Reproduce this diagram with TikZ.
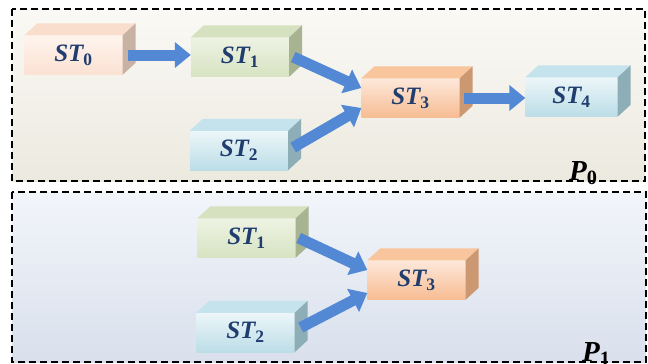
\documentclass[tikz,border=0pt]{standalone}
\usepackage{fontspec}
\setmainfont{Liberation Serif}
\usetikzlibrary{arrows.meta}

\definecolor{stblue}{HTML}{1F3D6E}
\definecolor{flowblue}{HTML}{5288D4}
\definecolor{peachA}{HTML}{FEF4EE}
\definecolor{peachB}{HTML}{FBE1D2}
\definecolor{peachT}{HTML}{F9DECD}
\definecolor{peachS}{HTML}{C8B2A3}
\definecolor{greenA}{HTML}{EEF3E3}
\definecolor{greenB}{HTML}{D7E3C2}
\definecolor{greenT}{HTML}{D6E1C0}
\definecolor{greenS}{HTML}{A7B391}
\definecolor{cyanA}{HTML}{ECF6F9}
\definecolor{cyanB}{HTML}{BCDDE7}
\definecolor{cyanT}{HTML}{C5E3EC}
\definecolor{cyanS}{HTML}{8DAEB6}
\definecolor{orangeA}{HTML}{FDE8DA}
\definecolor{orangeB}{HTML}{F7BC92}
\definecolor{orangeT}{HTML}{F9C59C}
\definecolor{orangeS}{HTML}{CC9872}
\definecolor{sandA}{HTML}{FAF9F5}
\definecolor{sandB}{HTML}{ECE9DF}
\definecolor{skyA}{HTML}{F2F5FA}
\definecolor{skyB}{HTML}{D9E0EC}

\tikzset{
  stbox/.style={minimum width=98pt, minimum height=39pt, inner sep=0pt,
    text=stblue, font=\fontsize{25}{25}\selectfont\bfseries\itshape},
  peach/.style={stbox, top color=peachA, bottom color=peachB},
  green/.style={stbox, top color=greenA, bottom color=greenB},
  cyan/.style={stbox, top color=cyanA, bottom color=cyanB},
  orange/.style={stbox, top color=orangeA, bottom color=orangeB},
  flow/.style={draw=flowblue, line width=11pt, -{Triangle[length=16pt,width=25pt]}},
  panel/.style={draw=black, line width=1.4pt, dash pattern=on 7pt off 4pt},
  plabel/.style={anchor=base west, inner sep=0pt,
    font=\fontsize{29}{29}\selectfont\bfseries\itshape},
}

% top and side faces of a box
\newcommand{\faces}[3]{%
  \fill[#2] (#1.north west) -- ++(13,-12) -- ([shift={(13,-12)}]#1.north east) -- (#1.north east) -- cycle;
  \fill[#3] (#1.north east) -- ++(13,-12) -- ([shift={(13,-12)}]#1.south east) -- (#1.south east) -- cycle;}
\newcommand{\stl}[1]{ST\textsubscript{\upshape #1}}

\begin{document}
\begin{tikzpicture}[x=1pt, y=-1pt]
  \useasboundingbox (0,0) rectangle (648,364);

  % Panels
  \path[top color=sandA, bottom color=sandB] (12,9) rectangle (645,181);
  \draw[panel] (12,9) rectangle (645,181);
  \path[top color=skyA, bottom color=skyB] (12,192) rectangle (646,362);
  \draw[panel] (12,192) rectangle (646,362);

  % P0 boxes
  \node[peach]  (p0st0) at (73.5,55)  {\stl{0}};
  \node[green]  (p0st1) at (240,57)   {\stl{1}};
  \node[cyan]   (p0st2) at (239,150.5) {\stl{2}};
  \node[orange] (p0st3) at (410.5,98) {\stl{3}};
  \node[cyan, minimum width=92pt] (p0st4) at (571.5,97) {\stl{4}};
  \faces{p0st0}{peachT}{peachS}
  \faces{p0st1}{greenT}{greenS}
  \faces{p0st2}{cyanT}{cyanS}
  \faces{p0st3}{orangeT}{orangeS}
  \faces{p0st4}{cyanT}{cyanS}

  % P1 boxes
  \node[green]  (p1st1) at (246.5,238) {\stl{1}};
  \node[cyan]   (p1st2) at (245.5,332.5) {\stl{2}};
  \node[orange] (p1st3) at (416.5,280) {\stl{3}};
  \faces{p1st1}{greenT}{greenS}
  \faces{p1st2}{cyanT}{cyanS}
  \faces{p1st3}{orangeT}{orangeS}

  % Arrows
  \draw[flow] ([xshift=5pt]p0st0.east) -- (p0st0.east -| p0st1.west);
  \draw[flow] ([xshift=4pt]p0st1.east) -- ([yshift=10pt]p0st3.west);
  \draw[flow] ([xshift=5pt,yshift=3pt]p0st2.east) -- ([yshift=-10pt]p0st3.west);
  \draw[flow] ([xshift=4pt]p0st3.east) -- (p0st3.east -| p0st4.west);
  \draw[flow] ([xshift=3pt]p1st1.east) -- ([yshift=10pt]p1st3.west);
  \draw[flow] ([xshift=6pt,yshift=5pt]p1st2.east) -- ([yshift=-13pt]p1st3.west);

  % Labels
  \node[plabel] (lp0) at (569,180) {P\textsubscript{\upshape 0}};
  \node[plabel] (lp1) at (582,361) {P\textsubscript{\upshape 1}};
\end{tikzpicture}
\end{document}
